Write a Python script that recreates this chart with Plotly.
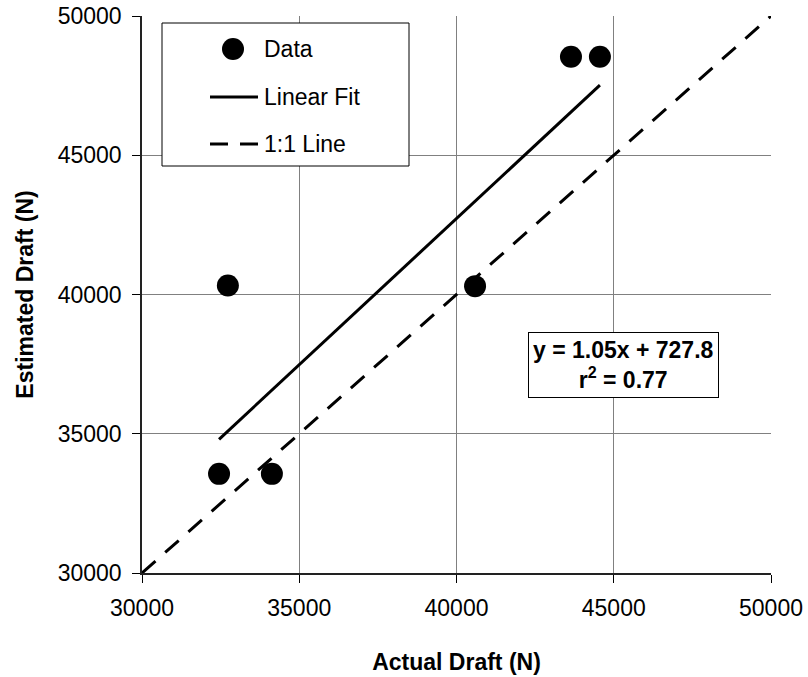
import plotly.graph_objects as go

# Measured vs. estimated draft force (N)
actual_draft = [32450, 34130, 32730, 40590, 43640, 44560]
estimated_draft = [33560, 33560, 40320, 40300, 48540, 48540]

# Regression reported for the data set
fit_slope = 1.05
fit_intercept = 727.8
fit_r2 = 0.77

axis_min, axis_max = 30000, 50000
tick_values = [30000, 35000, 40000, 45000, 50000]
tick_labels = ["30000", "35000", "40000", "45000", "50000"]

FONT = "Liberation Sans, Arial, sans-serif"

W, H = 808, 677
L, R, T, B = 142, 37, 16, 104
PW, PH = W - L - R, H - T - B


def px(xp):
    return (xp - L) / PW


def py(yp):
    return (H - B - yp) / PH


fig = go.Figure()

# 1:1 reference line
fig.add_trace(go.Scatter(
    x=[axis_min, axis_max], y=[axis_min, axis_max], mode="lines",
    line=dict(color="black", width=3, dash="18px,13px"),
    showlegend=False, hoverinfo="skip", cliponaxis=False,
))

# Linear fit over the range of the data
x_lo, x_hi = min(actual_draft), max(actual_draft)
fig.add_trace(go.Scatter(
    x=[x_lo, x_hi],
    y=[fit_slope * x_lo + fit_intercept, fit_slope * x_hi + fit_intercept],
    mode="lines", line=dict(color="black", width=3),
    showlegend=False, hoverinfo="skip",
))

# Observations
fig.add_trace(go.Scatter(
    x=actual_draft, y=estimated_draft, mode="markers",
    marker=dict(color="black", size=22, line=dict(width=0)),
    showlegend=False,
))

axis_common = dict(
    range=[axis_min, axis_max], tickvals=tick_values, ticktext=tick_labels,
    showgrid=True, gridcolor="#808080", gridwidth=1,
    showline=True, linecolor="#222222", linewidth=1.5,
    ticks="outside", ticklen=8, tickcolor="black", tickwidth=1,
    tickfont=dict(family=FONT, size=23, color="black"),
    zeroline=False, fixedrange=True, automargin=False,
)

fig.update_layout(
    width=W, height=H,
    margin=dict(l=L, r=R, t=T, b=B, pad=0),
    paper_bgcolor="white", plot_bgcolor="white",
    showlegend=False,
    xaxis=dict(axis_common, ticklabelstandoff=6,
               title=dict(text="<b>Actual Draft (N)</b>", standoff=34,
                          font=dict(family=FONT, size=23, color="black"))),
    yaxis=dict(axis_common, ticklabelstandoff=6,
               title=dict(text="<b>Estimated Draft (N)</b>", standoff=18,
                          font=dict(family=FONT, size=23, color="black"))),
)

# Legend box
shapes = [
    dict(type="rect", xref="paper", yref="paper",
         x0=px(162), x1=px(409), y0=py(23), y1=py(166),
         line=dict(color="black", width=1), fillcolor="white", layer="above"),
    dict(type="line", xref="paper", yref="paper",
         x0=px(210), x1=px(258), y0=py(97), y1=py(97),
         line=dict(color="black", width=3), layer="above"),
    dict(type="line", xref="paper", yref="paper",
         x0=px(210), x1=px(258), y0=py(144), y1=py(144),
         line=dict(color="black", width=3, dash="18px,12px"), layer="above"),
    dict(type="circle", xref="paper", yref="paper",
         xsizemode="pixel", ysizemode="pixel",
         xanchor=px(233), yanchor=py(49),
         x0=-11, x1=11, y0=-11, y1=11,
         line=dict(color="black", width=0), fillcolor="black", layer="above"),
]
fig.update_layout(shapes=shapes)

legend_labels = ["Data", "Linear Fit", "1:1 Line"]
legend_rows = [49, 97, 144]
for label, row in zip(legend_labels, legend_rows):
    fig.add_annotation(
        xref="paper", yref="paper", x=px(262), y=py(row),
        text=label, showarrow=False, xanchor="left", yanchor="middle",
        font=dict(family=FONT, size=23, color="black"),
    )

# Regression equation box
fig.add_annotation(
    xref="paper", yref="paper", x=px(623.5), y=py(365),
    text=f"<b>y = {fit_slope:.2f}x + {fit_intercept:.1f}<br>r<sup>2</sup> = {fit_r2:.2f}</b>",
    showarrow=False, xanchor="center", yanchor="middle", align="center",
    font=dict(family=FONT, size=23, color="black"),
    bgcolor="white", bordercolor="black", borderwidth=1, borderpad=4,
)

fig.write_html("out.html")
